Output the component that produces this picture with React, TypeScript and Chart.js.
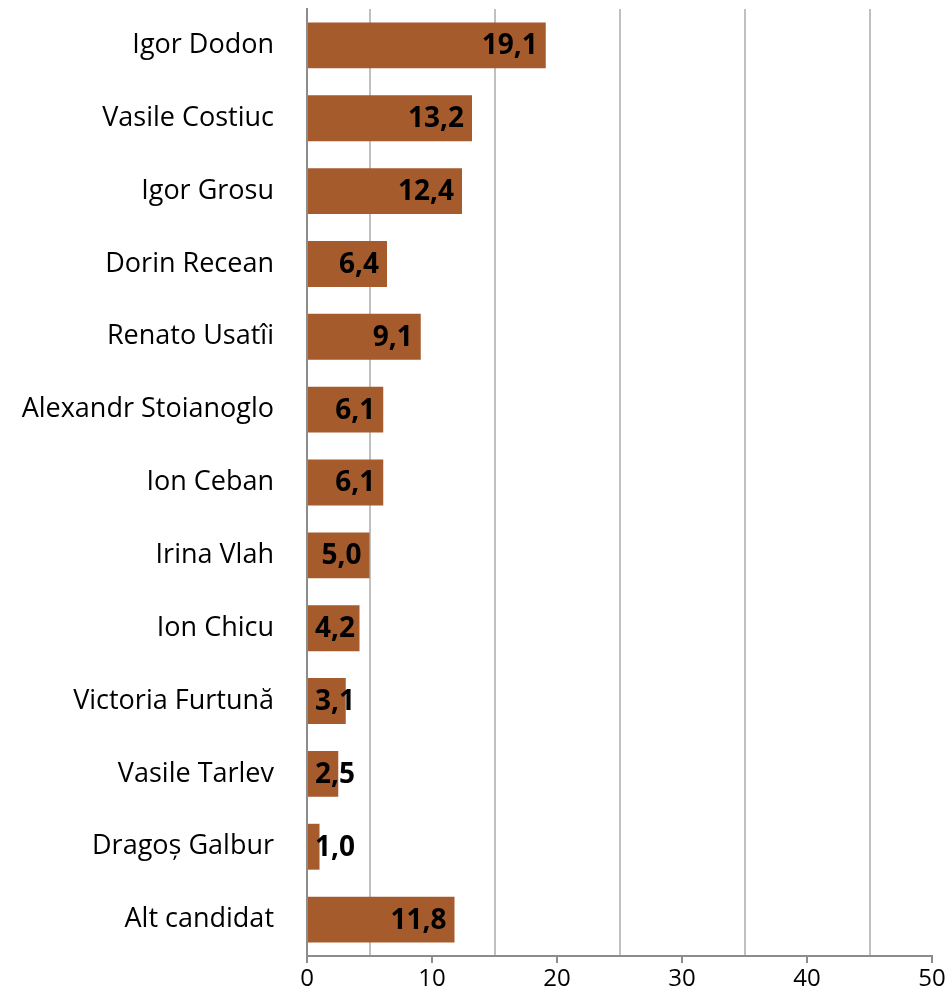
import React, { useEffect, useRef } from "react";
import { Chart, registerables } from "chart.js";

Chart.register(...registerables);

const categories = [
  "Igor Dodon",
  "Vasile Costiuc",
  "Igor Grosu",
  "Dorin Recean",
  "Renato Usatîi",
  "Alexandr Stoianoglo",
  "Ion Ceban",
  "Irina Vlah",
  "Ion Chicu",
  "Victoria Furtună",
  "Vasile Tarlev",
  "Dragoș Galbur",
  "Alt candidat",
];
const values = [19.1, 13.2, 12.4, 6.4, 9.1, 6.1, 6.1, 5.0, 4.2, 3.1, 2.5, 1.0, 11.8];
const axisMin = 0;
const axisMax = 50;
const axisStep = 5;
const labelEvery = 10;

const FONT = "'Open Sans', Lato, sans-serif";
const BAR_COLOR = "#A55B2C";

const dataLabelPlugin = {
  id: "dataLabels",
  afterDatasetsDraw(chart: any) {
    const ctx = chart.ctx;
    const meta = chart.getDatasetMeta(0);
    const left = chart.chartArea.left;
    ctx.save();
    ctx.font = `bold 28px ${FONT}`;
    ctx.fillStyle = "#000";
    ctx.textBaseline = "middle";
    ctx.textAlign = "left";
    meta.data.forEach((bar: any, i: number) => {
      const txt = values[i].toFixed(1).replace(".", ",");
      const w = ctx.measureText(txt).width;
      const x = Math.max(bar.x - 8 - w, left + 8);
      ctx.fillText(txt, x, bar.y + 1);
    });
    ctx.restore();
  },
};

export default function App() {
  const ref = useRef<HTMLCanvasElement | null>(null);
  useEffect(() => {
    if (!ref.current) return;
    const chart = new Chart(ref.current, {
      type: "bar",
      data: {
        labels: categories,
        datasets: [
          {
            data: values,
            backgroundColor: BAR_COLOR,
            barPercentage: 0.63,
            categoryPercentage: 1,
          },
        ],
      },
      options: {
        indexAxis: "y",
        animation: false,
        responsive: false,
        maintainAspectRatio: false,
        layout: { padding: { left: 0, right: 16, top: 9, bottom: 0 } },
        plugins: { legend: { display: false }, tooltip: { enabled: false } },
        scales: {
          x: {
            min: axisMin,
            max: axisMax,
            ticks: {
              stepSize: axisStep,
              autoSkip: false,
              maxRotation: 0,
              padding: 2,
              color: "#000",
              font: { family: FONT, size: 24 },
              callback: (v: any) => (Number(v) % labelEvery === 0 ? String(v) : ""),
            },
            grid: {
              lineWidth: 2,
              color: (c: any) =>
                c.tick && c.tick.value % labelEvery !== 0 ? "#c0c0c0" : "rgba(0,0,0,0)",
              tickColor: (c: any) =>
                c.tick && c.tick.value % labelEvery === 0 ? "#8c8c8c" : "rgba(0,0,0,0)",
              tickLength: 7,
              drawTicks: true,
            },
            border: { display: true, color: "#8c8c8c", width: 2 },
            afterFit: (s: any) => {
              s.height = 41;
              s.paddingLeft = 0;
              s.paddingRight = 0;
            },
          },
          y: {
            ticks: {
              color: "#000",
              padding: 33,
              autoSkip: false,
              font: { family: FONT, size: 27 },
            },
            grid: { display: false, drawTicks: false },
            border: { display: true, color: "#8c8c8c", width: 2 },
            afterFit: (s: any) => {
              s.width = 307;
              s.paddingTop = 0;
              s.paddingBottom = 0;
            },
          },
        },
      },
      plugins: [dataLabelPlugin],
    });
    return () => chart.destroy();
  }, []);
  return (
    <div style={{ position: "absolute", left: 0, top: 0, width: 948, height: 997, background: "#fff" }}>
      <canvas ref={ref} width={948} height={997} style={{ display: "block" }} />
    </div>
  );
}
